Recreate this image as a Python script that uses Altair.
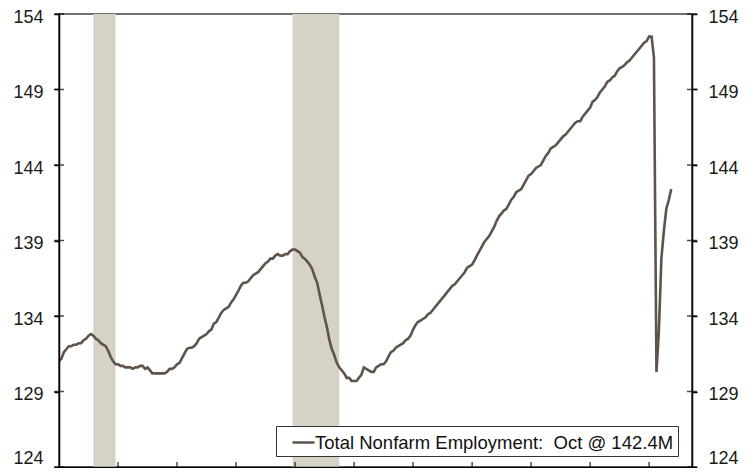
import altair as alt
import pandas as pd

LABEL = "Total Nonfarm Employment:\u00a0 Oct @ 142.4M\u00a0"

# Monthly total nonfarm employment, millions (Jan 2000 - Oct 2020)
emp_2000 = [131.0, 131.2, 131.6, 131.8, 132.0, 132.0, 132.1, 132.1, 132.2, 132.2, 132.4, 132.5]
emp_2001 = [132.7, 132.8, 132.7, 132.5, 132.4, 132.2, 132.1, 132.0, 131.7, 131.3, 131.0, 130.8]
emp_2002 = [130.8, 130.7, 130.7, 130.6, 130.6, 130.6, 130.5, 130.6, 130.6, 130.7, 130.7, 130.5]
emp_2003 = [130.6, 130.4, 130.2, 130.2, 130.2, 130.2, 130.2, 130.2, 130.3, 130.5, 130.5, 130.6]
emp_2004 = [130.8, 130.9, 131.2, 131.5, 131.8, 131.9, 131.9, 132.0, 132.2, 132.5, 132.6, 132.7]
emp_2005 = [132.8, 133.0, 133.1, 133.5, 133.6, 133.9, 134.2, 134.4, 134.5, 134.6, 134.9, 135.1]
emp_2006 = [135.4, 135.7, 136.0, 136.2, 136.2, 136.3, 136.5, 136.7, 136.8, 136.9, 137.1, 137.3]
emp_2007 = [137.5, 137.6, 137.8, 137.8, 138.0, 138.1, 138.0, 138.0, 138.1, 138.1, 138.3, 138.4]
emp_2008 = [138.4, 138.3, 138.2, 137.9, 137.8, 137.6, 137.4, 137.1, 136.6, 136.2, 135.4, 134.7]
emp_2009 = [133.9, 133.2, 132.4, 131.8, 131.4, 130.9, 130.6, 130.4, 130.2, 129.9, 129.9, 129.7]
emp_2010 = [129.7, 129.7, 129.9, 130.1, 130.6, 130.5, 130.4, 130.3, 130.3, 130.6, 130.7, 130.8]
emp_2011 = [130.8, 131.0, 131.3, 131.6, 131.7, 131.9, 132.0, 132.1, 132.2, 132.4, 132.5, 132.7]
emp_2012 = [133.1, 133.4, 133.6, 133.7, 133.8, 133.9, 134.1, 134.2, 134.4, 134.6, 134.8, 135.0]
emp_2013 = [135.2, 135.4, 135.6, 135.8, 136.0, 136.1, 136.3, 136.5, 136.7, 136.9, 137.2, 137.3]
emp_2014 = [137.4, 137.7, 138.0, 138.3, 138.6, 138.9, 139.1, 139.3, 139.6, 139.9, 140.3, 140.6]
emp_2015 = [140.8, 141.0, 141.1, 141.4, 141.7, 141.9, 142.2, 142.3, 142.4, 142.7, 143.0, 143.3]
emp_2016 = [143.4, 143.6, 143.8, 143.9, 144.0, 144.3, 144.6, 144.8, 145.1, 145.2, 145.3, 145.5]
emp_2017 = [145.7, 145.9, 146.0, 146.2, 146.4, 146.6, 146.8, 146.9, 146.9, 147.2, 147.4, 147.6]
emp_2018 = [147.8, 148.2, 148.3, 148.5, 148.8, 149.0, 149.2, 149.5, 149.6, 149.8, 149.9, 150.2]
emp_2019 = [150.4, 150.5, 150.6, 150.8, 150.9, 151.1, 151.3, 151.5, 151.7, 151.9, 152.1, 152.2]
emp_2020 = [152.5, 152.5, 151.1, 130.3, 133.0, 137.8, 139.6, 141.1, 141.7, 142.4]

rec_start = ["2001-03-01", "2007-12-01"]
rec_end = ["2001-12-01", "2009-07-01"]

y_ticks = [124, 129, 134, 139, 144, 149, 154]
x_ticks = ["2002-01-01", "2004-01-01", "2006-01-01", "2008-01-01", "2010-01-01",
           "2012-01-01", "2014-01-01", "2016-01-01", "2018-01-01", "2020-01-01"]

values = (emp_2000 + emp_2001 + emp_2002 + emp_2003 + emp_2004 + emp_2005 + emp_2006
          + emp_2007 + emp_2008 + emp_2009 + emp_2010 + emp_2011 + emp_2012 + emp_2013
          + emp_2014 + emp_2015 + emp_2016 + emp_2017 + emp_2018 + emp_2019 + emp_2020)
dates = pd.date_range("2000-01-01", periods=len(values), freq="MS")
df = pd.DataFrame({"date": dates.strftime("%Y-%m-%d"), "value": values, "series": LABEL})
rec = pd.DataFrame({"start": rec_start, "end": rec_end})
yt = pd.DataFrame({"v": y_ticks})
xt = pd.DataFrame({"d": x_ticks})

W, H = 633, 453
LINE = "#5e544a"
SHADE = "#d6d2c6"
FONT = "Liberation Sans"

xscale = alt.Scale(domain=[alt.DateTime(year=2000, month=1, date=1),
                           alt.DateTime(year=2021, month=6, date=15)])
yscale = alt.Scale(domain=[124, 154], nice=False, zero=False)


def y_axis(orient):
    return alt.Axis(
        orient=orient, values=y_ticks, title=None, grid=False,
        tickSize=5, tickWidth=1.5, tickColor="black",
        domainColor="black", domainWidth=1.5, labelPadding=11,
        labelFont=FONT, labelFontSize=18, labelColor="#1a1a1a",
        labelBaseline={"condition": {"test": "datum.value == 124", "value": "bottom"},
                       "value": "middle"},
        labelOffset={"condition": {"test": "datum.value == 124", "value": 0.5},
                     "value": 3},
        zindex=1,
    )


bands = alt.Chart(rec).mark_rect(color=SHADE).encode(
    x=alt.X("start:T", scale=xscale, axis=None),
    x2="end:T",
    y=alt.YDatum(124, scale=yscale, axis=None),
    y2=alt.datum(154),
)

line = alt.Chart(df).mark_line(strokeWidth=2.6).encode(
    x=alt.X("date:T", scale=xscale,
            axis=alt.Axis(title=None, labels=False, ticks=False, grid=False,
                          domainColor="black", domainWidth=1.5, zindex=1)),
    y=alt.Y("value:Q", scale=yscale, axis=y_axis("left")),
    color=alt.Color("series:N", scale=alt.Scale(range=[LINE]),
                    legend=alt.Legend(title=None, orient="none", legendX=217, legendY=412,
                                      strokeColor="#333333", fillColor="white", padding=4,
                                      symbolType="stroke", symbolSize=484,
                                      symbolStrokeWidth=2.5, symbolOffset=11,
                                      labelOffset={"expr": "-1"},
                                      labelFont=FONT, labelFontSize=18.5, labelColor="#111111",
                                      labelLimit=600)),
)

left_ticks = alt.Chart(yt).mark_tick(size=10, thickness=1.5, color="black").encode(
    y=alt.Y("v:Q", scale=yscale, axis=None),
    x=alt.value(0),
)

right_ticks = alt.Chart(yt).mark_tick(size=10, thickness=1.5, color="black").encode(
    y=alt.Y("v:Q", scale=yscale, axis=y_axis("right")),
    x=alt.value(W),
)

bottom_ticks = alt.Chart(xt).mark_tick(size=10, thickness=1.5, color="black").encode(
    x=alt.X("d:T", scale=xscale, axis=None),
    y=alt.value(H),
)

chart = (
    alt.layer(bands, line, left_ticks, right_ticks, bottom_ticks)
    .resolve_scale(y="shared", x="shared")
    .resolve_axis(y="independent", x="independent")
    .properties(width=W, height=H,
                autosize=alt.AutoSizeParams(type="none"),
                padding={"left": 51, "top": 6, "right": 51, "bottom": 1})
    .configure_view(stroke="#444444", strokeWidth=1.5)
)

chart.save("out.html", embed_options={"renderer": "svg", "actions": False})
